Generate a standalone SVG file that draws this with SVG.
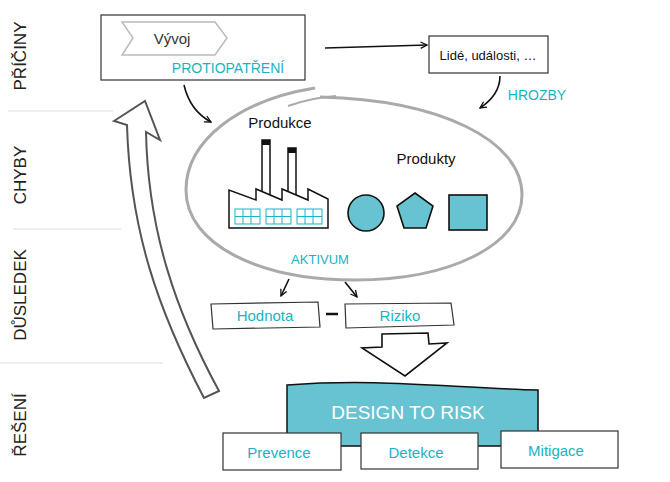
<svg xmlns="http://www.w3.org/2000/svg" width="670" height="482" viewBox="0 0 670 482">
<style>
text{font-family:"Liberation Sans",Arial,sans-serif}
.lbl{font-size:17px;fill:#222}
.cy{fill:#19b3c4}
.box{fill:#fff;stroke:#333;stroke-width:1.2}
.ln{fill:none;stroke:#111;stroke-width:1.6}
.sep{stroke:#ddd;stroke-width:1}
.sh{fill:#67c3d1;stroke:#111;stroke-width:1.6}
</style>
<defs>
<marker id="ah" viewBox="0 0 10 10" refX="9" refY="5" markerWidth="8" markerHeight="8" orient="auto" markerUnits="userSpaceOnUse"><path d="M1 1L9 5L1 9" fill="none" stroke="#111" stroke-width="1.6"/></marker>
</defs>
<g id="rows">
<text class="lbl" transform="translate(26,56) rotate(-90)" text-anchor="middle">PŘÍČINY</text>
<text class="lbl" transform="translate(26,175) rotate(-90)" text-anchor="middle">CHYBY</text>
<text class="lbl" transform="translate(26,295) rotate(-90)" text-anchor="middle">DŮSLEDEK</text>
<text class="lbl" transform="translate(26,425) rotate(-90)" text-anchor="middle">ŘEŠENÍ</text>
<line class="sep" x1="8" y1="111" x2="113" y2="111"/>
<line class="sep" x1="13" y1="229" x2="121" y2="229"/>
<line class="sep" x1="0" y1="363" x2="163" y2="363"/>
</g>
<g id="bigarrow">
<path d="M114 121L145 101L160 140L146 132C148 230 175 310 219 391L204 398C158 310 130 230 127 125Z" fill="#fff" stroke="#555" stroke-width="2"/>
</g>
<g id="asset">
<path d="M315 88C240 100 186 140 186 190C186 245 260 280 355 280C450 280 522 245 522 195C522 140 440 100 320 97" fill="none" stroke="#aaa" stroke-width="3"/>
<path d="M288 106C305 100 320 97 336 96" fill="none" stroke="#aaa" stroke-width="2"/>
<text x="280" y="128" font-size="15" text-anchor="middle" fill="#111">Produkce</text>
<text x="426" y="164" font-size="15" text-anchor="middle" fill="#111">Produkty</text>
<text x="320" y="264" font-size="13" text-anchor="middle" class="cy">AKTIVUM</text>
</g>
<g id="factory">
<rect x="262" y="140" width="8" height="55" fill="#fff" stroke="#111" stroke-width="1.5"/>
<rect x="262" y="140" width="8" height="5" fill="#111"/>
<rect x="288" y="148" width="8" height="50" fill="#fff" stroke="#111" stroke-width="1.5"/>
<rect x="288" y="148" width="8" height="5" fill="#111"/>
<path d="M229 228L229 190L256 200L256 189L282 200L282 189L308 200L308 189L328 199L328 228Z" fill="#fff" stroke="#111" stroke-width="1.5"/>
<g fill="none" stroke="#19b3c4" stroke-width="1">
<rect x="235" y="209" width="25" height="15"/><path d="M235 216.5H260M243 209V224M251 209V224"/>
<rect x="266" y="209" width="25" height="15"/><path d="M266 216.5H291M274 209V224M282 209V224"/>
<rect x="297" y="209" width="25" height="15"/><path d="M297 216.5H322M305 209V224M313 209V224"/>
</g>
</g>
<g id="products">
<circle cx="366" cy="213" r="18" class="sh"/>
<path d="M415 193L433 206L426 228L404 228L397 206Z" class="sh"/>
<rect x="449" y="195" width="38" height="35" class="sh"/>
</g>
<g id="vyvoj">
<rect x="101" y="15" width="204" height="65" class="box"/>
<path d="M122 22L215 22L227 38L215 55L122 55L133 38Z" fill="#fff" stroke="#bbb" stroke-width="1.5"/>
<text x="172" y="44" font-size="15" text-anchor="middle" fill="#333">Vývoj</text>
<text x="228" y="73" font-size="14" text-anchor="middle" class="cy">PROTIOPATŘENÍ</text>
</g>
<g id="lide">
<rect x="429" y="36" width="119" height="37" class="box"/>
<text x="488" y="60" font-size="13" text-anchor="middle" fill="#111">Lidé, události, …</text>
<text x="537" y="100" font-size="14" text-anchor="middle" class="cy">HROZBY</text>
</g>
<g id="hodnota">
<path d="M211 304L318 302L320 327L213 329Z" class="box"/>
<text x="265" y="321" font-size="15" text-anchor="middle" class="cy">Hodnota</text>
</g>
<g id="riziko">
<path d="M345 304L451 303L454 325L346 328Z" class="box"/>
<text x="400" y="321" font-size="15" text-anchor="middle" class="cy">Riziko</text>
</g>
<g id="dtr">
<path d="M287 385C380 378 450 388 538 390L538 446L287 446Z" fill="#67c3d1" stroke="#111" stroke-width="1.5"/>
<text x="408" y="419" font-size="19" text-anchor="middle" fill="#fff">DESIGN TO RISK</text>
</g>
<g id="prevence"><rect x="223" y="433" width="118" height="37" class="box"/><text x="279" y="458" font-size="15" text-anchor="middle" class="cy">Prevence</text></g>
<g id="detekce"><rect x="361" y="433" width="117" height="36" class="box"/><text x="416" y="458" font-size="15" text-anchor="middle" class="cy">Detekce</text></g>
<g id="mitigace"><rect x="501" y="431" width="117" height="37" class="box"/><text x="556" y="456" font-size="15" text-anchor="middle" class="cy">Mitigace</text></g>
<g id="connectors">
<path d="M325 48L427 45" class="ln" marker-end="url(#ah)"/>
<path d="M500 76C500 90 492 100 480 108" class="ln" marker-end="url(#ah)"/>
<path d="M184 85C188 102 196 114 211 122" class="ln" marker-end="url(#ah)"/>
<path d="M289 279L281 296" class="ln" marker-end="url(#ah)"/>
<path d="M345 282L357 297" class="ln" marker-end="url(#ah)"/>
<path d="M326 314L338 314" stroke="#111" stroke-width="2.5"/>
<path d="M382 334L428 333L429 344L447 343L405 376L362 348L382 347Z" fill="#fff" stroke="#111" stroke-width="1.6"/>
</g>
</svg>
